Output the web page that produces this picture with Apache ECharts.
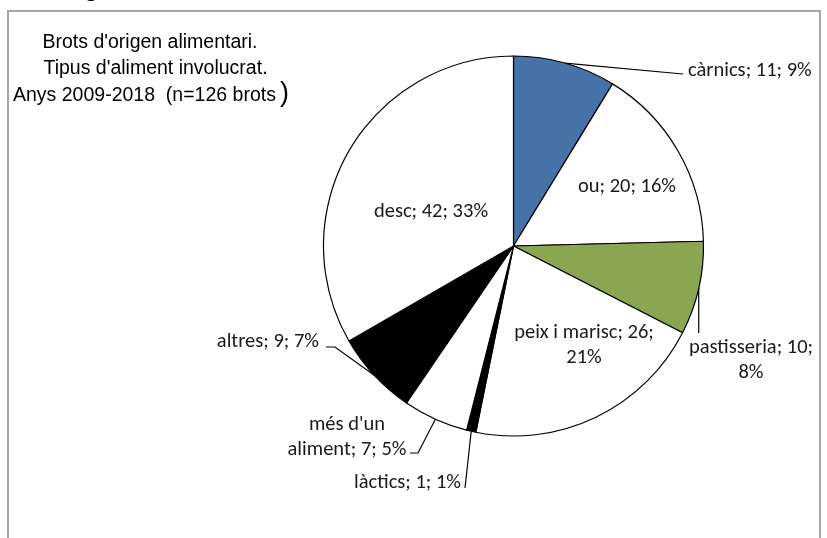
<!DOCTYPE html>
<html><head><meta charset="utf-8">
<script src="https://cdn.jsdelivr.net/npm/echarts@6/dist/echarts.min.js"></script>
<style>html,body{margin:0;padding:0;background:#fff}#c{width:827px;height:538px}</style>
</head><body><div id="c"></div>
<script>
// ---- data ----
const categories = ["càrnics", "ou", "pastisseria", "peix i marisc", "làctics", "més d'un aliment", "altres", "desc"];
const counts = [11, 20, 10, 26, 1, 7, 9, 42];
const titleLines = ["Brots d'origen alimentari.", "Tipus d'aliment involucrat.", "Anys 2009-2018  (n=126 brots"];
const titleClose = ")";
// ---- styling / layout ----
const sliceColors = ['#4572a7', '#ffffff', '#8ba650', '#ffffff', '#000000', '#ffffff', '#000000', '#ffffff'];
const labelSpots = [
  {out: true,  x: 688, y: 71,  align: 'left',   route: [[683, 74]]},
  {out: false, x: 627, y: 187},
  {out: true,  x: 751, y: 360, align: 'center', down: 333},
  {out: false, x: 584, y: 345},
  {out: true,  x: 461, y: 483, align: 'right',  route: [[465, 488]]},
  {out: true,  x: 347, y: 437, align: 'center', route: [[418, 453], [410, 453]]},
  {out: true,  x: 319, y: 342, align: 'right',  route: [[335, 347], [326, 347]]},
  {out: false, x: 431, y: 212}
];
const nameBreaks = {"més d'un aliment": "més d'un\naliment"};
const pctBreak = {"pastisseria": true, "peix i marisc": true};

const labelFont = 'Carlito, Lato, sans-serif';
const titleFont = '"Liberation Sans", Arial, sans-serif';

const chart = echarts.init(document.getElementById('c'), null, {renderer: 'canvas'});

const data = categories.map((name, i) => ({
  name: name,
  value: counts[i],
  itemStyle: {color: sliceColors[i]},
  label: {position: labelSpots[i].out ? 'outside' : 'inside'},
  labelLine: {show: labelSpots[i].out}
}));

chart.setOption({
  animation: false,
  graphic: [
    {type: 'rect', shape: {x: 8, y: 11, width: 812, height: 560}, style: {fill: 'none', stroke: '#a6a6a6', lineWidth: 2}, silent: true, z: -1},
    {type: 'text', x: 91, y: -10, style: {text: 'g', font: '26px ' + labelFont, fill: '#000', align: 'center', verticalAlign: 'middle'}},
    {type: 'text', x: 150, y: 43, style: {text: titleLines[0], font: '19.5px ' + titleFont, fill: '#000', align: 'center', verticalAlign: 'middle'}},
    {type: 'text', x: 155.5, y: 69, style: {text: titleLines[1], font: '19.5px ' + titleFont, fill: '#000', align: 'center', verticalAlign: 'middle'}},
    {type: 'text', x: 13, y: 96, style: {text: titleLines[2], font: '19.5px ' + titleFont, fill: '#000', align: 'left', verticalAlign: 'middle'}},
    {type: 'text', x: 280, y: 94, style: {text: titleClose, font: '27px ' + titleFont, fill: '#000', align: 'left', verticalAlign: 'middle'}}
  ],
  series: [{
    type: 'pie',
    center: [513.5, 246],
    radius: 190,
    startAngle: 90,
    clockwise: true,
    percentPrecision: 0,
    avoidLabelOverlap: false,
    silent: true,
    emphasis: {disabled: true},
    itemStyle: {borderColor: '#000', borderWidth: 1.2},
    label: {
      fontFamily: labelFont,
      fontSize: 20.5,
      lineHeight: 25,
      color: '#1a1a1a',
      formatter: p => (nameBreaks[p.name] || p.name) + '; ' + p.value + ';' + (pctBreak[p.name] ? '\n' : ' ') + p.percent + '%'
    },
    labelLine: {lineStyle: {color: '#000', width: 1.2}, length: 10, length2: 10},
    labelLayout: function (params) {
      const s = labelSpots[params.dataIndex];
      const res = {x: s.x, y: s.y, align: s.align || 'center', verticalAlign: 'middle'};
      if (s.out && params.labelLinePoints) {
        const p0 = params.labelLinePoints[0];
        if (s.down != null) res.labelLinePoints = [p0, [p0[0], s.down]];
        else res.labelLinePoints = [p0].concat(s.route);
      }
      return res;
    },
    data: data
  }]
});
</script></body></html>
